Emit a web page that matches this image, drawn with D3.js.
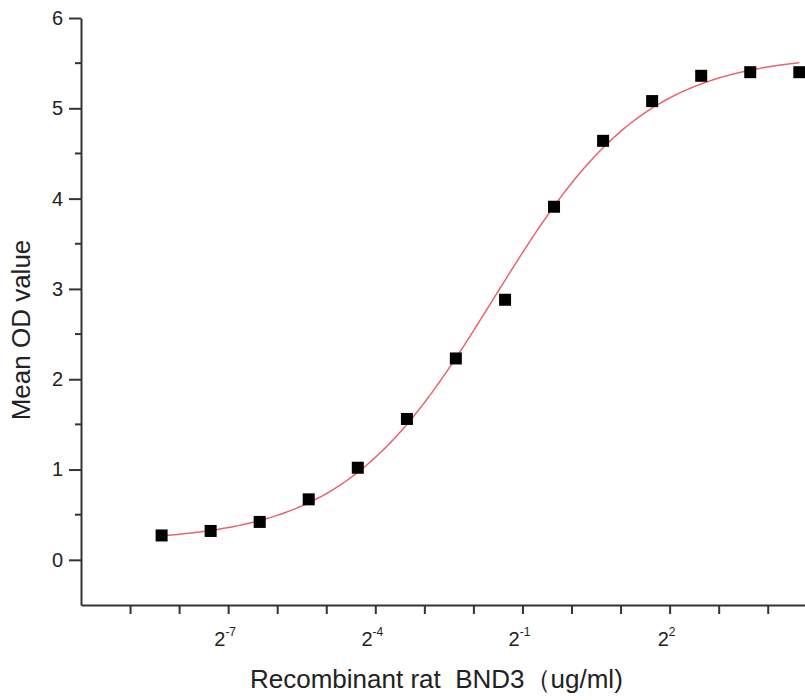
<!DOCTYPE html>
<html>
<head>
<meta charset="utf-8">
<script src="https://cdn.jsdelivr.net/npm/d3@7"></script>
<style>
  body { margin: 0; background: #fff; }
  svg { display: block; font-family: "Liberation Sans", Arial, sans-serif; }
</style>
</head>
<body>
<svg id="chart"></svg>
<script>
// concentrations (ug/ml), two-fold dilution series
var conc = [0.00305, 0.0061, 0.0122, 0.0244, 0.0488, 0.0977, 0.195, 0.391, 0.781, 1.5625, 3.125, 6.25, 12.5, 25];
// mean OD values
var meanOD = [0.27, 0.32, 0.42, 0.67, 1.02, 1.56, 2.23, 2.88, 3.91, 4.64, 5.08, 5.36, 5.40, 5.40];
// x ticks (log2 exponents) and which ones carry a label
var xTickExp = [-9, -8, -7, -6, -5, -4, -3, -2, -1, 0, 1, 2, 3, 4];
var xLabelExp = [-7, -4, -1, 2];
var yTicks = [0, 1, 2, 3, 4, 5, 6];
var yMinorTicks = [0.5, 1.5, 2.5, 3.5, 4.5, 5.5];
// four parameter logistic fit (in log2 units)
var fitBottom = 0.2, fitTop = 5.6, fitMid = -1.58, fitSlope = 0.933;

function fit4pl(c) {
    var u = Math.log2(c);
    return fitBottom + (fitTop - fitBottom) / (1 + Math.pow(2, fitSlope * (fitMid - u)));
}

const width = 805;
const height = 700;
const marginLeft = 81;
const marginTop = 18;
const axisY = 605;

const x = d3.scaleLog().base(2).domain([Math.pow(2, -10), Math.pow(2, 4.76)]).range([marginLeft, width]);
const y = d3.scaleLinear([-0.5, 6], [axisY, marginTop]);

var svg = d3.select('#chart')
    .attr("width", width)
    .attr("height", height)
    .attr("viewBox", [0, 0, width, height]);

// fitted curve
var curvePts = [];
var lo = Math.log2(conc[0]), hi = Math.log2(conc[conc.length - 1]);
for (var i = 0; i <= 200; i++) {
    var c = Math.pow(2, lo + (hi - lo) * i / 200);
    curvePts.push([c, fit4pl(c)]);
}
svg.append("path")
    .datum(curvePts)
    .attr("fill", "none")
    .attr("stroke", "#e86470")
    .attr("stroke-width", 1.5)
    .attr("d", d3.line().x(function(d) { return x(d[0]); }).y(function(d) { return y(d[1]); }).curve(d3.curveMonotoneX));

// data points
var sq = 12;
svg.append("g")
    .selectAll("rect")
    .data(conc)
    .join("rect")
    .attr("x", function(d) { return x(d) - sq / 2; })
    .attr("y", function(d, i) { return y(meanOD[i]) - sq / 2; })
    .attr("width", sq)
    .attr("height", sq)
    .attr("fill", "#000");

// X axis
var gx = svg.append("g")
    .attr("transform", "translate(0," + axisY + ")")
    .call(d3.axisBottom(x)
        .tickValues(xTickExp.map(function(e) { return Math.pow(2, e); }))
        .tickSize(9)
        .tickSizeOuter(0)
        .tickFormat(""));
gx.select(".domain").attr("stroke", "#333").attr("stroke-width", 2);
gx.selectAll(".tick line").attr("stroke", "#333").attr("stroke-width", 2);

var xl = svg.append("g");
xLabelExp.forEach(function(e) {
    var t = xl.append("text")
        .attr("x", x(Math.pow(2, e)) - 3)
        .attr("y", 646)
        .attr("text-anchor", "middle")
        .attr("fill", "#222")
        .attr("font-size", 20);
    t.append("tspan").text("2");
    t.append("tspan").attr("font-size", 12).attr("dy", -10).text(e);
});

// Y axis
var gy = svg.append("g")
    .attr("transform", "translate(" + marginLeft + ",0)")
    .call(d3.axisLeft(y).tickValues(yTicks).tickSize(12).tickSizeOuter(0).tickPadding(6).tickFormat(d3.format("d")));
gy.select(".domain").attr("stroke", "#333").attr("stroke-width", 2);
gy.selectAll(".tick line").attr("stroke", "#333").attr("stroke-width", 2);
gy.selectAll(".tick text").attr("fill", "#222").attr("font-size", 20).attr("font-family", "Liberation Sans, Arial, sans-serif");

svg.append("g")
    .selectAll("line")
    .data(yMinorTicks)
    .join("line")
    .attr("x1", marginLeft - 6)
    .attr("x2", marginLeft)
    .attr("y1", function(d) { return y(d); })
    .attr("y2", function(d) { return y(d); })
    .attr("stroke", "#333")
    .attr("stroke-width", 2);

// titles
svg.append("text")
    .attr("x", 250)
    .attr("y", 688)
    .attr("fill", "#222")
    .attr("font-size", 26)
    .style("white-space", "pre")
    .text("Recombinant rat  BND3（ug/ml)");

svg.append("text")
    .attr("transform", "translate(30,330) rotate(-90)")
    .attr("text-anchor", "middle")
    .attr("fill", "#222")
    .attr("font-size", 26)
    .text("Mean OD value");
</script>
</body>
</html>
